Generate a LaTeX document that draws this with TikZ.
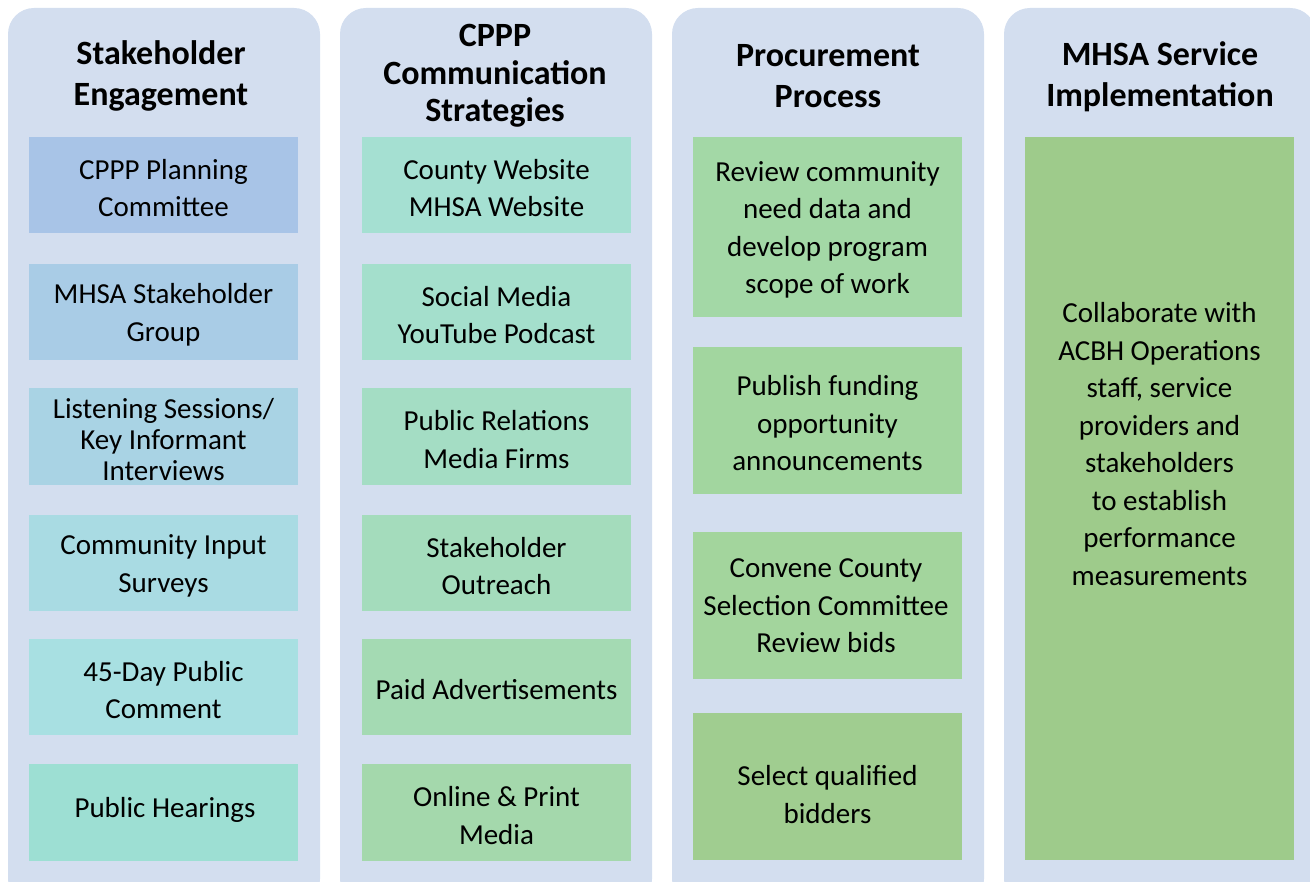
\documentclass[tikz,border=0pt]{standalone}
\usepackage{fontspec}
\setmainfont{Carlito}
\definecolor{panelc}{HTML}{D3DEEF}
\definecolor{ca1}{HTML}{A8C4E7}
\definecolor{ca2}{HTML}{A9CCE6}
\definecolor{ca3}{HTML}{A9D3E4}
\definecolor{ca4}{HTML}{A9DBE3}
\definecolor{ca5}{HTML}{A8E0E2}
\definecolor{ca6}{HTML}{9DDFD3}
\definecolor{cb1}{HTML}{A5E0D2}
\definecolor{cb2}{HTML}{A4DFCC}
\definecolor{cb3}{HTML}{A4DDC4}
\definecolor{cb4}{HTML}{A4DCBC}
\definecolor{cb5}{HTML}{A4DAB3}
\definecolor{cb6}{HTML}{A4D8AC}
\definecolor{cc1}{HTML}{A3D8A6}
\definecolor{cc2}{HTML}{A2D69F}
\definecolor{cc3}{HTML}{A3D59D}
\definecolor{cc4}{HTML}{A0CD90}
\definecolor{cd1}{HTML}{9ECB8B}
\tikzset{
  panel/.style={fill=panelc, rounded corners=26pt},
  hdr/.style={align=center, font=\fontsize{34}{41}\selectfont\bfseries, inner sep=0pt},
  itembox/.style={minimum width=269pt, inner sep=0pt, outer sep=0pt},
  itemtxt/.style={align=center, font=\fontsize{29}{37.5}\selectfont, inner sep=0pt, yshift=-3pt},
}
\begin{document}
\begin{tikzpicture}[x=1pt,y=-1pt]
\useasboundingbox (0,0) rectangle (1310,882);
\clip (0,0) rectangle (1310,882);
% panels
\fill[panel] (8,8) rectangle (320,905);
\fill[panel] (340,8) rectangle (652,905);
\fill[panel] (672,8) rectangle (984,905);
\fill[panel] (1004,8) rectangle (1316,905);
% headers
\node[hdr] (h1) at (161,76) {Stakeholder\\Engagement};
\node[hdr, font=\fontsize{34}{37.5}\selectfont\bfseries] (h2) at (495,76) {CPPP\\Communication\\Strategies};
\node[hdr] (h3) at (828,76) {Procurement\\Process};
\node[hdr] (h4) at (1160,77) {MHSA Service\\Implementation};
% column 1
\node[itembox, fill=ca1, minimum height=96pt] (a1) at (163.5,185) {};
\node[itemtxt] at (a1) {CPPP Planning\\Committee};
\node[itembox, fill=ca2, minimum height=96pt] (a2) at (163.5,312) {};
\node[itemtxt] at (a2) {MHSA Stakeholder\\Group};
\node[itembox, fill=ca3, minimum height=97pt] (a3) at (163.5,436.5) {};
\node[itemtxt, font=\fontsize{29}{31}\selectfont] at (a3) {Listening Sessions/\\Key Informant\\Interviews};
\node[itembox, fill=ca4, minimum height=96pt] (a4) at (163.5,563) {};
\node[itemtxt] at (a4) {Community Input\\Surveys};
\node[itembox, fill=ca5, minimum height=96pt] (a5) at (163.5,687) {};
\node[itemtxt] at (a5) {45-Day Public\\Comment};
\node[itembox, fill=ca6, minimum height=97pt] (a6) at (163.5,812.5) {};
\node[itemtxt] at (165,807) {Public Hearings};
% column 2
\node[itembox, fill=cb1, minimum height=96pt] (b1) at (496.5,185) {};
\node[itemtxt] at (b1) {County Website\\MHSA Website};
\node[itembox, fill=cb2, minimum height=96pt] (b2) at (496.5,312) {};
\node[itemtxt] at (b2) {Social Media\\YouTube Podcast};
\node[itembox, fill=cb3, minimum height=97pt] (b3) at (496.5,436.5) {};
\node[itemtxt] at (b3) {Public Relations\\Media Firms};
\node[itembox, fill=cb4, minimum height=96pt] (b4) at (496.5,563) {};
\node[itemtxt] at (b4) {Stakeholder\\Outreach};
\node[itembox, fill=cb5, minimum height=96pt] (b5) at (496.5,687) {};
\node[itemtxt] at (b5) {Paid Advertisements};
\node[itembox, fill=cb6, minimum height=97pt] (b6) at (496.5,812.5) {};
\node[itemtxt] at (b6) {Online \& Print\\Media};
% column 3
\node[itembox, fill=cc1, minimum height=180pt] (c1) at (827.5,227) {};
\node[itemtxt] at (c1) {Review community\\need data and\\develop program\\scope of work};
\node[itembox, fill=cc2, minimum height=147pt] (c2) at (827.5,420.5) {};
\node[itemtxt] at (c2) {Publish funding\\opportunity\\announcements};
\node[itembox, fill=cc3, minimum height=147pt] (c3) at (827.5,605.5) {};
\node[itemtxt] at (826,603) {Convene County\\Selection Committee\\Review bids};
\node[itembox, fill=cc4, minimum height=147pt] (c4) at (827.5,786.5) {};
\node[itemtxt] at (827.5,791.5) {Select qualified\\bidders};
% column 4
\node[itembox, fill=cd1, minimum height=723pt] (d1) at (1159.5,498.5) {};
\node[itemtxt] at (1159.5,441) {Collaborate with\\ACBH Operations\\staff, service\\providers and\\stakeholders\\to establish\\performance\\measurements};
\end{tikzpicture}
\end{document}
